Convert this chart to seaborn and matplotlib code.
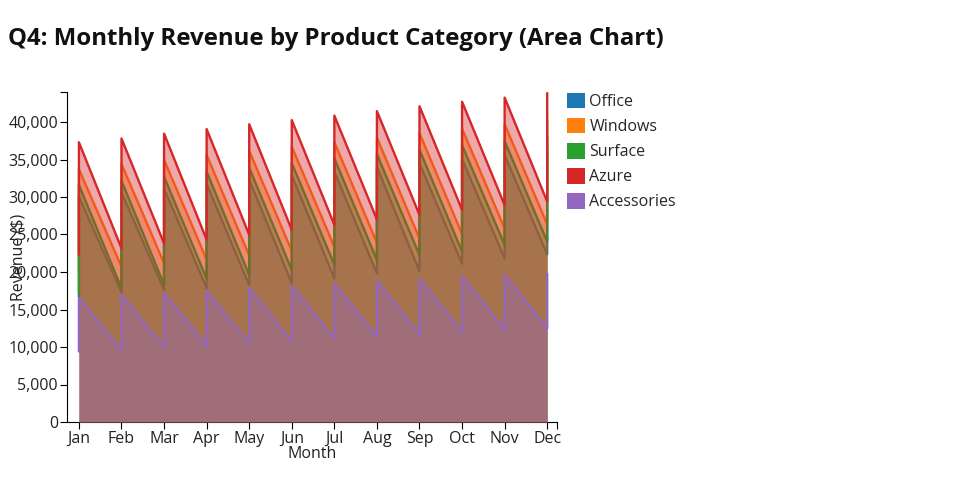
import matplotlib
matplotlib.use('Agg')
import matplotlib.pyplot as plt
import pandas as pd
import seaborn as sns
from matplotlib.patches import Patch
from matplotlib.ticker import FixedLocator, StrMethodFormatter

# data: two records per month for every category
months = ['Jan', 'Feb', 'Mar', 'Apr', 'May', 'Jun', 'Jul', 'Aug', 'Sep', 'Oct', 'Nov', 'Dec']
categories = ['Office', 'Windows', 'Surface', 'Azure', 'Accessories']
colors = ['#1f77b4', '#ff7f0e', '#2ca02c', '#d62728', '#9467bd']

office_first = [16700, 17300, 17600, 17850, 18250, 18500, 19150, 19800, 20100, 21100, 21800, 22350]
office_second = [30050, 30600, 31150, 31750, 32300, 32900, 33400, 34000, 34500, 35050, 35600, 36150]
windows_first = [20200, 20700, 21150, 21650, 22200, 22800, 23350, 23900, 24450, 25050, 25800, 26350]
windows_second = [33700, 34400, 34950, 35600, 36150, 36700, 37300, 37900, 38500, 39100, 39700, 40300]
surface_first = [17150, 17850, 18300, 19100, 19600, 20250, 20950, 21600, 22250, 22700, 23600, 24050]
surface_second = [31600, 32150, 32700, 33380, 33900, 34500, 35150, 35700, 36300, 36900, 37450, 38000]
azure_first = [22300, 23150, 23800, 24300, 24950, 25600, 26270, 27000, 27600, 28270, 28900, 29380]
azure_second = [37300, 37800, 38450, 39050, 39700, 40250, 40850, 41450, 42100, 42700, 43250, 43850]
accessories_first = [9400, 9550, 9950, 10150, 10450, 10700, 11150, 11400, 11600, 11950, 12250, 12500]
accessories_second = [16550, 16950, 17200, 17500, 17850, 18150, 18450, 18850, 19100, 19450, 19600, 19800]

firsts = [office_first, windows_first, surface_first, azure_first, accessories_first]
seconds = [office_second, windows_second, surface_second, azure_second, accessories_second]

rows = []
for cat, first, second in zip(categories, firsts, seconds):
    for i in range(len(months)):
        rows.append({'category': cat, 'month': i, 'revenue': first[i]})
        rows.append({'category': cat, 'month': i, 'revenue': second[i]})
df = pd.DataFrame(rows)

sns.set_style('ticks')
plt.rcParams['font.family'] = ['Open Sans', 'DejaVu Sans']

fig = plt.figure(figsize=(9.6, 5), dpi=100)
ax = fig.add_axes([67 / 960, 78 / 500, 490 / 960, 330 / 500])

# overlapping areas, drawn one after another (each one tints what is below it)
for i, cat in enumerate(categories):
    sub = df[df.category == cat]
    ax.fill_between(sub['month'], sub['revenue'], color=colors[i], alpha=0.4, lw=0, zorder=2 * i + 1)
    sns.lineplot(data=sub, x='month', y='revenue', sort=False, estimator=None,
                 color=colors[i], lw=1.7, ax=ax, zorder=2 * i + 2)

ax.set_xlim(-0.28, 11.23)
ax.set_ylim(0, 44000)
ax.set_xticks(range(len(months)))
ax.set_xticklabels(months)
ax.set_yticks(range(0, 40001, 5000))
ax.yaxis.set_major_formatter(StrMethodFormatter('{x:,.0f}'))
ax.yaxis.set_minor_locator(FixedLocator([44000]))
ax.xaxis.set_minor_locator(FixedLocator([11.23]))
ax.tick_params(which='both', length=5, width=0.8, color='black', labelsize=11.5, pad=1.5, labelcolor='#222222')

for s in ['top', 'right']:
    ax.spines[s].set_visible(False)
for s in ['left', 'bottom']:
    ax.spines[s].set_color('black')
    ax.spines[s].set_linewidth(0.8)

ax.set_xlabel('Month', fontsize=11.5, color='#222222')
ax.set_ylabel('Revenue ($)', fontsize=11.5, color='#222222')
ax.xaxis.set_label_coords(0.5, -0.074)
ax.yaxis.set_label_coords(-0.083, 0.5)

handles = [Patch(facecolor=c, edgecolor='none') for c in colors]
fig.legend(handles, categories, loc='upper left', bbox_to_anchor=(567 / 960, 1 - 93 / 500),
           frameon=False, fontsize=11.5, handlelength=1.1, handleheight=1.1,
           handletextpad=0.3, labelspacing=0.5, borderaxespad=0, borderpad=0)

fig.text(8 / 960, 1 - 39 / 500, 'Q4: Monthly Revenue by Product Category (Area Chart)',
         fontsize=17.3, fontweight='bold', va='center', ha='left', color='#111111')

fig.savefig('out.png', dpi=100)
